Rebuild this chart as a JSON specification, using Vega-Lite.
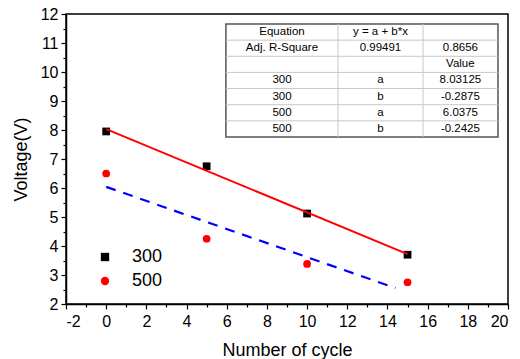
{
  "$schema": "https://vega.github.io/schema/vega-lite/v6.json",
  "width": 442,
  "height": 290,
  "autosize": {"type": "none"},
  "padding": {"left": 66, "top": 14, "right": 12, "bottom": 55},
  "config": {
    "font": "Liberation Sans",
    "view": {"stroke": "black", "strokeWidth": 1.5},
    "axis": {"grid": false, "domainColor": "black", "domainWidth": 1.5, "tickColor": "black", "tickWidth": 1.2, "tickSize": 5, "labelColor": "black", "labelFontSize": 16, "labelFont": "Liberation Sans", "titleFont": "Liberation Sans", "titleFontSize": 18, "titleFontWeight": "normal", "titleColor": "black", "labelOverlap": false}
  },
  "resolve": {"axis": {"x": "independent", "y": "independent"}},
  "datasets": {
    "pts": [
      {"series": "300", "cycle": 0, "voltage": 7.95},
      {"series": "300", "cycle": 5, "voltage": 6.75},
      {"series": "300", "cycle": 10, "voltage": 5.12},
      {"series": "300", "cycle": 15, "voltage": 3.7},
      {"series": "500", "cycle": 0, "voltage": 6.5},
      {"series": "500", "cycle": 5, "voltage": 4.25},
      {"series": "500", "cycle": 10, "voltage": 3.38},
      {"series": "500", "cycle": 15, "voltage": 2.75}
    ],
    "fits": [
      {"series": "300", "cycle": 0, "voltage": 8.03},
      {"series": "300", "cycle": 15, "voltage": 3.72},
      {"series": "500", "cycle": 0, "voltage": 6.04},
      {"series": "500", "cycle": 14.4, "voltage": 2.55}
    ],
    "cells": [
      {"c": 8.75, "r": 11.377, "t": "Equation"},
      {"c": 13.65, "r": 11.377, "t": "y = a + b*x"},
      {"c": 8.75, "r": 10.82, "t": "Adj. R-Square"},
      {"c": 13.65, "r": 10.82, "t": "0.99491"},
      {"c": 17.63, "r": 10.82, "t": "0.8656"},
      {"c": 17.63, "r": 10.264, "t": "Value"},
      {"c": 8.75, "r": 9.707, "t": "300"},
      {"c": 13.65, "r": 9.707, "t": "a"},
      {"c": 17.63, "r": 9.707, "t": "8.03125"},
      {"c": 8.75, "r": 9.151, "t": "300"},
      {"c": 13.65, "r": 9.151, "t": "b"},
      {"c": 17.63, "r": 9.151, "t": "-0.2875"},
      {"c": 8.75, "r": 8.594, "t": "500"},
      {"c": 13.65, "r": 8.594, "t": "a"},
      {"c": 17.63, "r": 8.594, "t": "6.0375"},
      {"c": 8.75, "r": 8.038, "t": "500"},
      {"c": 13.65, "r": 8.038, "t": "b"},
      {"c": 17.63, "r": 8.038, "t": "-0.2425"}
    ],
    "hlines": [
      {"x0": 5.96, "x1": 19.5, "y": 11.0985},
      {"x0": 5.96, "x1": 19.5, "y": 10.542},
      {"x0": 5.96, "x1": 19.5, "y": 9.9855},
      {"x0": 5.96, "x1": 19.5, "y": 9.429},
      {"x0": 5.96, "x1": 19.5, "y": 8.8725},
      {"x0": 5.96, "x1": 19.5, "y": 8.316}
    ],
    "vlines": [
      {"x": 11.54, "y0": 7.76, "y1": 11.655},
      {"x": 15.77, "y0": 7.76, "y1": 11.655}
    ],
    "frame": [
      {"x0": 5.96, "x1": 19.5, "y0": 7.76, "y1": 11.655}
    ]
  },
  "layer": [
    {
      "data": {"name": "pts"},
      "mark": {"type": "point", "filled": true, "opacity": 1, "size": 60},
      "encoding": {
        "x": {"field": "cycle", "type": "quantitative", "title": "Number of cycle",
          "scale": {"domain": [-2, 20], "nice": false, "zero": false},
          "axis": {"orient": "bottom", "values": [-2,0,2,4,6,8,10,12,14,16,18,20], "labelExpr": "'' + datum.value", "labelOverlap": false, "titlePadding": 12, "labelPadding": 4}},
        "y": {"field": "voltage", "type": "quantitative", "title": "Voltage(V)",
          "scale": {"domain": [2, 12], "nice": false, "zero": false},
          "axis": {"orient": "left", "values": [2,3,4,5,6,7,8,9,10,11,12], "labelExpr": "'' + datum.value", "labelOverlap": false, "titlePadding": 10, "labelPadding": 3}},
        "color": {"field": "series", "type": "nominal", "scale": {"domain": ["300", "500"], "range": ["black", "#ff0000"]},
          "legend": {"title": null, "orient": "none", "legendX": 30, "legendY": 234, "labelFontSize": 18, "labelColor": "black", "symbolSize": 70, "symbolOpacity": 1, "labelOffset": 18, "rowPadding": 6, "fillColor": null, "strokeColor": null}},
        "shape": {"field": "series", "type": "nominal", "scale": {"domain": ["300", "500"], "range": ["square", "circle"]}}
      }
    },
    {
      "data": {"name": "frame"},
      "mark": {"type": "rect", "fill": "white", "stroke": "#555555", "strokeWidth": 1.5},
      "encoding": {
        "x": {"field": "x0", "type": "quantitative", "axis": null},
        "x2": {"field": "x1"},
        "y": {"field": "y0", "type": "quantitative", "axis": null},
        "y2": {"field": "y1"}
      }
    },
    {
      "data": {"name": "hlines"},
      "mark": {"type": "rule", "color": "#c8c8c8", "strokeWidth": 1},
      "encoding": {
        "x": {"field": "x0", "type": "quantitative", "axis": null},
        "x2": {"field": "x1"},
        "y": {"field": "y", "type": "quantitative", "axis": null}
      }
    },
    {
      "data": {"name": "vlines"},
      "mark": {"type": "rule", "color": "#c8c8c8", "strokeWidth": 1},
      "encoding": {
        "x": {"field": "x", "type": "quantitative", "axis": null},
        "y": {"field": "y0", "type": "quantitative", "axis": null},
        "y2": {"field": "y1"}
      }
    },
    {
      "data": {"name": "cells"},
      "mark": {"type": "text", "fontSize": 11.5, "color": "black", "align": "center", "baseline": "middle"},
      "encoding": {
        "x": {"field": "c", "type": "quantitative", "axis": null},
        "y": {"field": "r", "type": "quantitative", "axis": null},
        "text": {"field": "t"}
      }
    },
    {
      "data": {"name": "fits"},
      "transform": [{"filter": "datum.series == '300'"}],
      "mark": {"type": "line", "color": "#ff0000", "strokeWidth": 2},
      "encoding": {
        "x": {"field": "cycle", "type": "quantitative",
          "axis": {"orient": "bottom", "values": [-1,1,3,5,7,9,11,13,15,17,19], "labels": false, "domain": false, "tickSize": 3, "title": null}},
        "y": {"field": "voltage", "type": "quantitative",
          "axis": {"orient": "left", "values": [2.5,3.5,4.5,5.5,6.5,7.5,8.5,9.5,10.5,11.5], "labels": false, "domain": false, "tickSize": 3, "title": null}}
      }
    },
    {
      "data": {"name": "fits"},
      "transform": [{"filter": "datum.series == '500'"}],
      "mark": {"type": "line", "color": "#0000ff", "strokeWidth": 2.2, "strokeDash": [10, 8]},
      "encoding": {
        "x": {"field": "cycle", "type": "quantitative", "axis": null},
        "y": {"field": "voltage", "type": "quantitative", "axis": null}
      }
    }
  ]
}
